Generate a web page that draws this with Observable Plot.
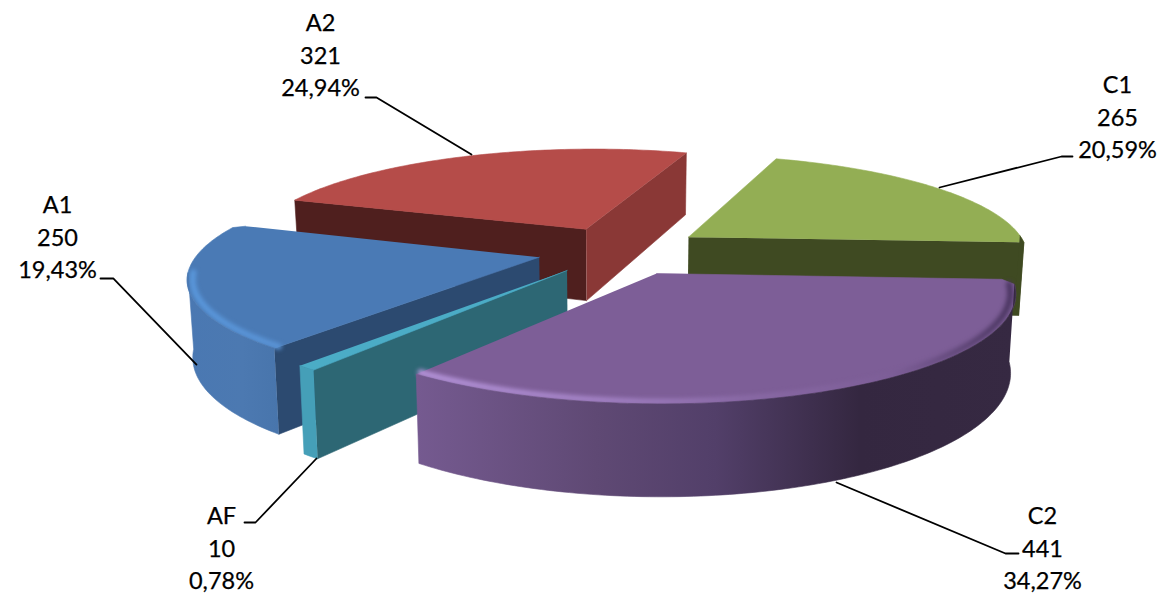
<!DOCTYPE html>
<html>
<head>
<meta charset="utf-8">
<style>html,body{margin:0;padding:0;background:#fff;overflow:hidden}svg{display:block}</style>
<script src="https://cdn.jsdelivr.net/npm/d3@7"></script>
<script src="https://cdn.jsdelivr.net/npm/@observablehq/plot@0.6"></script>
</head>
<body>
<script>
// Data
const categories = ["A1", "A2", "C1", "C2", "AF"];
const values = [250, 321, 265, 441, 10];

// Styles (per category)
const topColors = ["#4a7ab5", "#b54c49", "#93ae54", "#7d5e97", "#4bacc6"];
const edgeStartColors = ["#2c4a70", "#4f1f1e", "#3f4a22", "#3f2f4f", "#2d6774"];
const edgeEndColors = ["#2c4a70", "#8a3836", "#3f4a22", "#3f2f4f", "#2d6774"];
const wallColors = ["url(#wallA1)", "#8a3836", "#3f4a22", "url(#wallC2)", "#459fb8"];
const bevelColors = ["url(#bevelA1)", null, null, "url(#bevelC2)", null];
const trimStart = [0, 0, 0, 2.5, 0];
const trimEnd = [1.5, 0, 0, 0, 0];
const paintOrder = ["A2", "C1", "A1", "AF", "C2"];

// Leader lines and label anchors (layout)
const leaderPaths = [
  [[365, 97], [376, 97], [471, 154]],
  [[1072, 156], [1061, 156], [939, 187]],
  [[1018, 553], [1005, 553], [836, 482]],
  [[244, 522], [255, 522], [316, 458]],
  [[100, 278], [113, 278], [196, 364]]
];
const labelX = {A1: 57, A2: 320, C1: 1117, C2: 1042, AF: 221};
const labelY = {A1: 235, A2: 53, C1: 115, C2: 546, AF: 546};

// Camera
const cx = 620, cy = 250, R = 340, A = 100, k = 0.1666, H = 74, explode = 0.245,
      startAngle = -129.3, taper = 0.987, shear = 3;
const rad = d => d * Math.PI / 180;
const total = d3.sum(values);

function point(theta, r, mid, bottom) {
  const u = explode * Math.cos(rad(mid)) + r * Math.cos(rad(theta));
  const v = explode * Math.sin(rad(mid)) + r * Math.sin(rad(theta));
  const w = 1 + k * v;
  let x = cx + R * u / w + shear * v, y = cy - A * v / w;
  if (bottom) { x = cx + (x - cx) * taper; y += H / w; }
  return {x, y};
}
function arc(a0, a1, r, mid, bottom) {
  const n = Math.max(2, Math.ceil(Math.abs(a0 - a1)));
  return d3.range(n + 1).map(i => point(a0 + (a1 - a0) * i / n, r, mid, bottom));
}

let cum = 0;
const slices = categories.map((name, i) => {
  const a0 = startAngle - cum / total * 360;
  cum += values[i];
  const a1 = startAngle - cum / total * 360;
  const pct = d3.format(".2f")(values[i] / total * 100).replace(".", ",") + "%";
  return {name, value: values[i], pct, a0, a1, mid: (a0 + a1) / 2, i};
});

const marks = [];
marks.push(() => {
  const defs = d3.create("svg:defs");
  const grad = (id, stops) => {
    const g = defs.append("linearGradient").attr("id", id).attr("x1", 0).attr("x2", 1).attr("y1", 0).attr("y2", 0);
    stops.forEach(([o, c]) => g.append("stop").attr("offset", o).attr("stop-color", c));
  };
  grad("wallC2", [[0, "#755a90"], [0.3, "#5f4974"], [0.5, "#523f69"], [0.74, "#342740"], [1, "#362942"]]);
  grad("wallA1", [[0, "#4a78b2"], [0.6, "#4c79b1"], [1, "#4875ac"]]);
  grad("bevelA1", [[0, "#5a98dc"], [1, "#5a94d6"]]);
  grad("bevelC2", [[0, "#b594da"], [0.3, "#a483c6"], [0.55, "#8a6aa6"], [0.8, "#7d5e97"], [1, "#4a3560"]]);
  return defs.node();
});

const face = (pts, fill) => Plot.line(pts, {x: "x", y: "y", fill, stroke: fill, strokeWidth: 0.6});

for (const name of paintOrder) {
  const s = slices.find(d => d.name === name);
  const i = s.i;
  const apexT = point(0, 0, s.mid, false), apexB = point(0, 0, s.mid, true);
  const b0 = s.a0 - trimStart[i], b1 = s.a1 + trimEnd[i];
  // cut face at a0
  if (Math.cos(rad(s.a0)) < 0) {
    marks.push(face([apexT, point(s.a0, 1, s.mid, false), point(s.a0, 1, s.mid, true), apexB], edgeStartColors[i]));
  }
  // cut face at a1
  if (Math.cos(rad(s.a1)) > 0) {
    marks.push(face([apexT, point(s.a1, 1, s.mid, false), point(s.a1, 1, s.mid, true), apexB], edgeEndColors[i]));
  }
  // top
  marks.push(face([
    apexT,
    ...(trimStart[i] ? [point(s.a0, 0.97, s.mid, false)] : []),
    ...arc(b0, b1, 1, s.mid, false),
    ...(trimEnd[i] ? [point(s.a1, 0.97, s.mid, false)] : [])
  ], topColors[i]));
  // outer wall, front-facing portion
  const thetas = d3.range(0, 181).map(j => b0 + (s.a1 - b0) * j / 180).filter(t => Math.sin(rad(t)) < -0.02 || bevelColors[i] === null && Math.sin(rad(t)) < 0.02 || name === "C2");
  const visible = name === "A1" ? thetas.filter(t => t > -172) : thetas;
  // bevel highlight: drawn before the wall, which hides its outer half
  if (bevelColors[i] && visible.length > 1) {
    marks.push(Plot.line(arc(visible[0], visible[visible.length - 1], 0.985, s.mid, false), {
      x: "x", y: "y", stroke: bevelColors[i], strokeWidth: 6, imageFilter: "blur(2px)"
    }));
  }
  if (visible.length > 1) {
    const t0 = visible[0], t1 = visible[visible.length - 1];
    marks.push(face([...arc(t0, t1, 1, s.mid, false), ...arc(t1, t0, 1, s.mid, true)], wallColors[i]));
  }
}

// Leaders
for (const path of leaderPaths) {
  marks.push(Plot.line(path, {x: d => d[0], y: d => d[1], stroke: "#000", strokeWidth: 1.8}));
}

// Labels
marks.push(Plot.text(slices, {
  x: d => labelX[d.name],
  y: d => labelY[d.name],
  text: d => `${d.name}\n${d.value}\n${d.pct}`,
  fontFamily: "Lato, Carlito, Calibri, sans-serif",
  fontSize: 23.5,
  lineHeight: 1.385,
  textAnchor: "middle",
  lineAnchor: "middle",
  fill: "#000",
  stroke: "#000",
  strokeWidth: 0.25
}));

const chart = Plot.plot({
  width: 1162, height: 595,
  margin: 0,
  x: {domain: [0, 1162], range: [0, 1162], axis: null},
  y: {domain: [0, 595], range: [0, 595], axis: null},
  style: {background: "#fff"},
  marks
});
document.body.appendChild(chart);
</script>
</body>
</html>
